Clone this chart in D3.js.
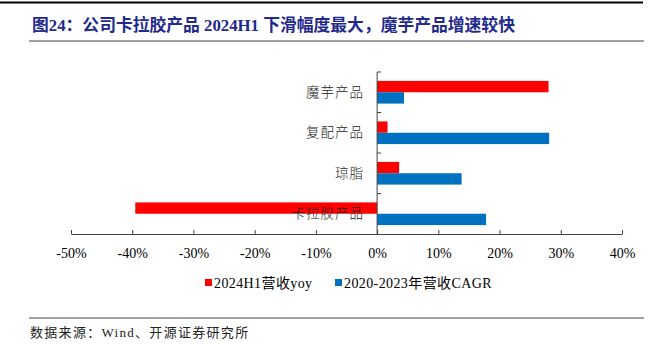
<!DOCTYPE html>
<html><head><meta charset="utf-8">
<script src="https://cdn.jsdelivr.net/npm/d3@7/dist/d3.min.js"></script>
<style>
html,body{margin:0;padding:0;background:#fff;}
svg{display:block;}
</style></head>
<body>
<script>
const categories = ["魔芋产品", "复配产品", "琼脂", "卡拉胶产品"];
const seriesNames = ["2024H1营收yoy", "2020-2023年营收CAGR"];
const yoy2024H1 = [28.0, 1.7, 3.6, -39.5];
const cagr2020_2023 = [4.4, 28.1, 13.8, 17.8];
const xTicks = [-50, -40, -30, -20, -10, 0, 10, 20, 30, 40];
const colors = ["#ff0000", "#0070c0"];
const titleText = "图24：公司卡拉胶产品 2024H1 下滑幅度最大，魔芋产品增速较快";
const sourceText = "数据来源：Wind、开源证券研究所";

const W = 662, H = 346;
const serif = "'Liberation Serif','Noto Sans CJK SC',serif";
const svg = d3.select("body").append("svg").attr("width", W).attr("height", H);

// header lines
svg.append("line").attr("x1", 0).attr("x2", 643).attr("y1", 2.5).attr("y2", 2.5)
  .attr("stroke", "#000").attr("stroke-width", 2);
svg.append("text").attr("x", 32).attr("y", 31)
  .attr("font-family", "'Liberation Serif','Noto Sans CJK SC',serif")
  .attr("font-weight", "bold").attr("font-size", 16.8).attr("fill", "#1f2a8c")
  .text(titleText);
svg.append("line").attr("x1", 29).attr("x2", 644).attr("y1", 41).attr("y2", 41)
  .attr("stroke", "#808080").attr("stroke-width", 1.5);

// scales
const x = d3.scaleLinear().domain([-50, 40]).range([71, 622]);
const y = d3.scaleBand().domain(categories).range([72, 234]).paddingInner(0.44).paddingOuter(0.22);
const yInner = d3.scaleBand().domain([0, 1]).range([0, y.bandwidth()]);

const series = [yoy2024H1, cagr2020_2023];
series.forEach((vals, si) => {
  svg.append("g").selectAll("rect").data(categories).join("rect")
    .attr("x", (c, i) => x(Math.min(0, vals[i])))
    .attr("width", (c, i) => Math.abs(x(vals[i]) - x(0)))
    .attr("y", c => y(c) + yInner(si))
    .attr("height", yInner.bandwidth())
    .attr("fill", colors[si]);
});

// x axis
const axisColor = "#404040";
const gx = svg.append("g").attr("transform", `translate(0,${234})`)
  .call(d3.axisBottom(x).tickValues(xTicks).tickSizeInner(-4).tickSizeOuter(0).tickFormat(d => d + "%").tickPadding(14));
gx.select(".domain").attr("stroke", axisColor);
gx.selectAll(".tick line").attr("stroke", axisColor);
gx.selectAll(".tick text").attr("font-family", serif).attr("font-size", 14).attr("fill", "#000");

// y axis at zero
const step = y.step();
const off = (step - y.bandwidth()) / 2;
const bounds = categories.map(c => y(c) - off).concat([y(categories[categories.length - 1]) - off + step]);
svg.append("line").attr("x1", x(0)).attr("x2", x(0)).attr("y1", bounds[0]).attr("y2", 234)
  .attr("stroke", axisColor);
svg.append("g").selectAll("line").data(bounds.slice(0, -1)).join("line")
  .attr("x1", x(0)).attr("x2", x(0) + 4).attr("y1", d => d).attr("y2", d => d)
  .attr("stroke", axisColor);

// category labels
svg.append("g").selectAll("text").data(categories).join("text")
  .attr("x", 364).attr("y", c => y(c) + y.bandwidth() / 2)
  .attr("dy", "0.35em").attr("text-anchor", "end")
  .attr("font-family", "'Noto Sans CJK SC',sans-serif").attr("font-size", 13.5)
  .attr("font-weight", 300)
  .attr("letter-spacing", 1).attr("fill", "#222")
  .text(c => c);

// legend
const legendX = [205, 335];
seriesNames.forEach((n, i) => {
  svg.append("rect").attr("x", legendX[i]).attr("y", 279).attr("width", 7).attr("height", 7).attr("fill", colors[i]);
  svg.append("text").attr("x", legendX[i] + 9).attr("y", 283).attr("dy", "0.35em")
    .attr("font-family", serif).attr("font-size", 14).attr("letter-spacing", 0.4)
    .attr("fill", "#000").text(n);
});

// source
svg.append("line").attr("x1", 29).attr("x2", 644).attr("y1", 318).attr("y2", 318)
  .attr("stroke", "#808080").attr("stroke-width", 1.5);
svg.append("text").attr("x", 30).attr("y", 332).attr("dy", "0.35em")
  .attr("font-family", serif).attr("font-size", 13).attr("letter-spacing", 1.3).attr("fill", "#222")
  .text(sourceText);
</script>
</body></html>
